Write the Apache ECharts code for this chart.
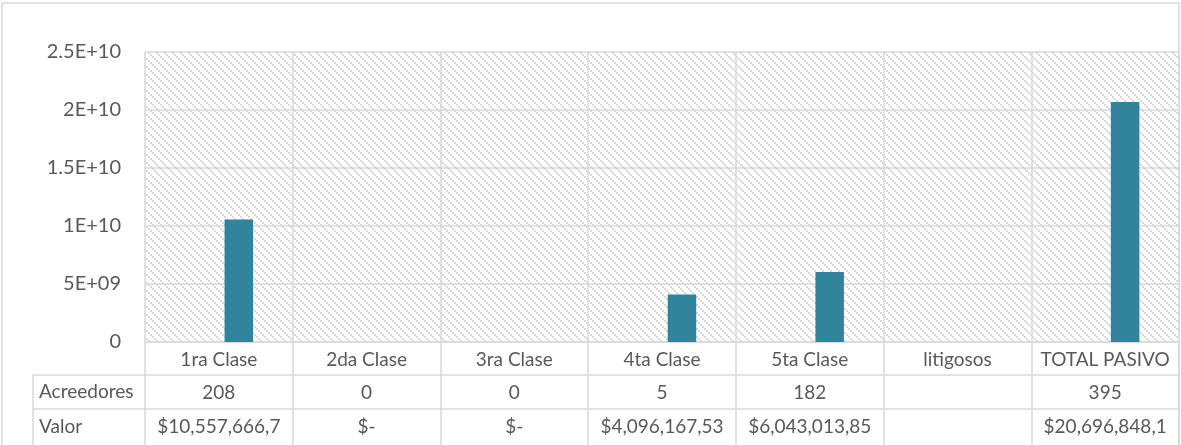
<!DOCTYPE html>
<html>
<head>
<meta charset="utf-8">
<script src="https://cdn.jsdelivr.net/npm/echarts@6/dist/echarts.min.js"></script>
<style>
  html, body { margin: 0; padding: 0; background: #ffffff; }
  #chart { width: 1181px; height: 445px; }
</style>
</head>
<body>
<div id="chart"></div>
<script>
const categories = ["1ra Clase", "2da Clase", "3ra Clase", "4ta Clase", "5ta Clase", "litigosos", "TOTAL PASIVO"];
const acreedores = [208, 0, 0, 5, 182, null, 395];
const valor = [10557666700, 0, 0, 4096167530, 6043013850, null, 20696848100];
const acreedoresLabels = ["208", "0", "0", "5", "182", "", "395"];
const valorLabels = ["$10,557,666,7", "$-", "$-", "$4,096,167,53", "$6,043,013,85", "", "$20,696,848,1"];
const yTickLabels = ["0", "5E+09", "1E+10", "1.5E+10", "2E+10", "2.5E+10"];
const rowNames = ["Acreedores", "Valor"];

const lineColor = "#d9d9d9";
const textColor = "#595959";
const font = "Lato, 'Open Sans', sans-serif";
const tableFontSize = 19;

// excel-like light downward diagonal hatch (2x2 blocks stepping diagonally)
function makeHatch() {
  const c = document.createElement("canvas");
  c.width = 8;
  c.height = 8;
  const ctx = c.getContext("2d");
  ctx.fillStyle = "#ffffff";
  ctx.fillRect(0, 0, 8, 8);
  ctx.fillStyle = "#d9d9d9";
  for (let y = 0; y < 8; y++) {
    for (let x = 0; x < 8; x++) {
      const d = (((Math.floor(x / 2) - Math.floor(y / 2)) % 4) + 4) % 4;
      if (d === 0) ctx.fillRect(x, y, 1, 1);
    }
  }
  return c;
}

const chart = echarts.init(document.getElementById("chart"));

const tableAxis = (labels, offset, tickLen, margin) => ({
  type: "category",
  data: categories,
  position: "bottom",
  offset: offset,
  axisLine: { show: true, lineStyle: { color: lineColor, width: 1.5 } },
  axisTick: { show: true, interval: 0, length: tickLen, lineStyle: { color: lineColor, width: 1.5 } },
  axisLabel: {
    interval: 0,
    margin: margin,
    color: textColor,
    fontFamily: font,
    fontSize: tableFontSize,
    lineHeight: tableFontSize,
    formatter: (v, i) => labels[i]
  },
  splitLine: { show: false }
});

const option = {
  animation: false,
  backgroundColor: "#ffffff",
  grid: {
    left: 145,
    right: 2,
    top: 52,
    bottom: 103,
    show: true,
    borderWidth: 0,
    backgroundColor: { image: makeHatch(), repeat: "repeat" }
  },
  xAxis: [
    {
      type: "category",
      data: categories,
      position: "bottom",
      axisLine: { show: true, lineStyle: { color: lineColor, width: 1.5 } },
      axisTick: { show: true, interval: 0, length: 33, lineStyle: { color: lineColor, width: 1.5 } },
      axisLabel: { interval: 0, margin: 8, color: textColor, fontFamily: font, fontSize: tableFontSize, lineHeight: tableFontSize },
      splitLine: { show: true, interval: 0, lineStyle: { color: lineColor, width: 1.5 } }
    },
    tableAxis(acreedoresLabels, 33, 34, 8),
    tableAxis(valorLabels, 67, 36, 8)
  ],
  yAxis: {
    type: "value",
    min: 0,
    max: 25000000000,
    interval: 5000000000,
    axisLine: { show: false },
    axisTick: { show: false },
    axisLabel: {
      margin: 24,
      color: textColor,
      fontFamily: font,
      fontSize: 20,
      formatter: v => yTickLabels[Math.round(v / 5000000000)]
    },
    splitLine: { show: true, lineStyle: { color: lineColor, width: 1.5 } }
  },
  graphic: [
    { type: "rect", z: -1, shape: { x: 2, y: 3, width: 1177, height: 460 }, style: { fill: "none", stroke: lineColor, lineWidth: 1.5 } },
    { type: "line", shape: { x1: 33, y1: 375, x2: 145, y2: 375 }, style: { stroke: lineColor, lineWidth: 1.5 } },
    { type: "line", shape: { x1: 33, y1: 409, x2: 145, y2: 409 }, style: { stroke: lineColor, lineWidth: 1.5 } },
    { type: "line", shape: { x1: 33, y1: 375, x2: 33, y2: 445 }, style: { stroke: lineColor, lineWidth: 1.5 } },
    { type: "text", x: 39, y: 392, style: { text: rowNames[0], fill: textColor, font: tableFontSize + "px " + font, verticalAlign: "middle" } },
    { type: "text", x: 39, y: 427, style: { text: rowNames[1], fill: textColor, font: tableFontSize + "px " + font, verticalAlign: "middle" } }
  ],
  series: [
    {
      name: "Acreedores",
      type: "bar",
      xAxisIndex: 0,
      data: acreedores,
      barWidth: 28.5,
      barGap: "40%",
      itemStyle: { color: "#4bacc6" }
    },
    {
      name: "Valor",
      type: "bar",
      xAxisIndex: 0,
      data: valor,
      barWidth: 28.5,
      barGap: "40%",
      itemStyle: { color: "#31849b" }
    }
  ]
};

chart.setOption(option);
</script>
</body>
</html>
